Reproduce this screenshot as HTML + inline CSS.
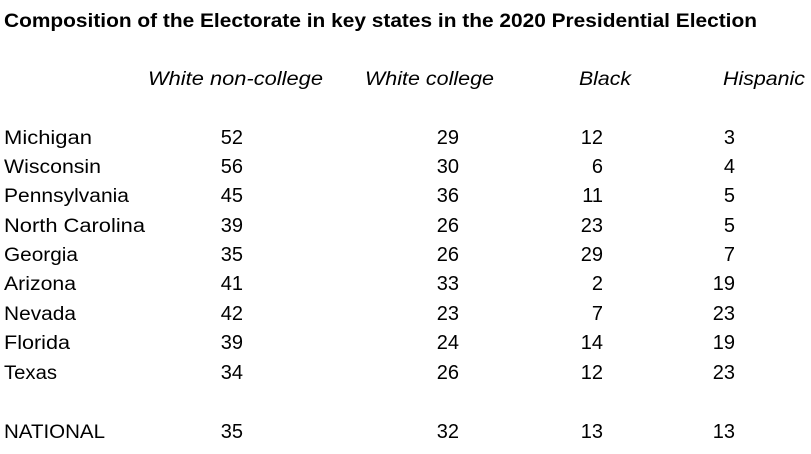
<!DOCTYPE html>
<html><head><meta charset="utf-8"><style>
html,body{margin:0;padding:0;background:#fff;}
svg{display:block;}
text{font-family:"Liberation Sans",sans-serif;font-size:19px;fill:#000;}
.t{font-weight:bold;}
.h{font-style:italic;}
.n{text-anchor:end;font-size:20px;}
</style></head><body>
<svg width="811" height="454" viewBox="0 0 811 454" xmlns="http://www.w3.org/2000/svg">
<rect width="811" height="454" fill="#fff"/>
<text class="t" x="4" y="27" textLength="753" lengthAdjust="spacingAndGlyphs">Composition of the Electorate in key states in the 2020 Presidential Election</text>
<text class="h" x="148" y="85" textLength="175" lengthAdjust="spacingAndGlyphs">White non-college</text>
<text class="h" x="365" y="85" textLength="129" lengthAdjust="spacingAndGlyphs">White college</text>
<text class="h" x="579" y="85" textLength="52" lengthAdjust="spacingAndGlyphs">Black</text>
<text class="h" x="723" y="85" textLength="82" lengthAdjust="spacingAndGlyphs">Hispanic</text>

<g>
<text x="4" y="144" textLength="88" lengthAdjust="spacingAndGlyphs">Michigan</text>
<text x="4" y="173" textLength="97" lengthAdjust="spacingAndGlyphs">Wisconsin</text>
<text x="4" y="202" textLength="125" lengthAdjust="spacingAndGlyphs">Pennsylvania</text>
<text x="4" y="232" textLength="141" lengthAdjust="spacingAndGlyphs">North Carolina</text>
<text x="4" y="261" textLength="74" lengthAdjust="spacingAndGlyphs">Georgia</text>
<text x="4" y="290" textLength="72" lengthAdjust="spacingAndGlyphs">Arizona</text>
<text x="4" y="320" textLength="72" lengthAdjust="spacingAndGlyphs">Nevada</text>
<text x="4" y="349" textLength="66" lengthAdjust="spacingAndGlyphs">Florida</text>
<text x="4" y="379" textLength="53" lengthAdjust="spacingAndGlyphs">Texas</text>
<text x="4" y="438" textLength="101" lengthAdjust="spacingAndGlyphs">NATIONAL</text>
</g>
<g>
<text class="n" x="243" y="144">52</text><text class="n" x="459" y="144">29</text><text class="n" x="603" y="144">12</text><text class="n" x="735" y="144">3</text>
<text class="n" x="243" y="173">56</text><text class="n" x="459" y="173">30</text><text class="n" x="603" y="173">6</text><text class="n" x="735" y="173">4</text>
<text class="n" x="243" y="202">45</text><text class="n" x="459" y="202">36</text><text class="n" x="603" y="202">11</text><text class="n" x="735" y="202">5</text>
<text class="n" x="243" y="232">39</text><text class="n" x="459" y="232">26</text><text class="n" x="603" y="232">23</text><text class="n" x="735" y="232">5</text>
<text class="n" x="243" y="261">35</text><text class="n" x="459" y="261">26</text><text class="n" x="603" y="261">29</text><text class="n" x="735" y="261">7</text>
<text class="n" x="243" y="290">41</text><text class="n" x="459" y="290">33</text><text class="n" x="603" y="290">2</text><text class="n" x="735" y="290">19</text>
<text class="n" x="243" y="320">42</text><text class="n" x="459" y="320">23</text><text class="n" x="603" y="320">7</text><text class="n" x="735" y="320">23</text>
<text class="n" x="243" y="349">39</text><text class="n" x="459" y="349">24</text><text class="n" x="603" y="349">14</text><text class="n" x="735" y="349">19</text>
<text class="n" x="243" y="379">34</text><text class="n" x="459" y="379">26</text><text class="n" x="603" y="379">12</text><text class="n" x="735" y="379">23</text>
<text class="n" x="243" y="438">35</text><text class="n" x="459" y="438">32</text><text class="n" x="603" y="438">13</text><text class="n" x="735" y="438">13</text>
</g>
</svg>
</body></html>
